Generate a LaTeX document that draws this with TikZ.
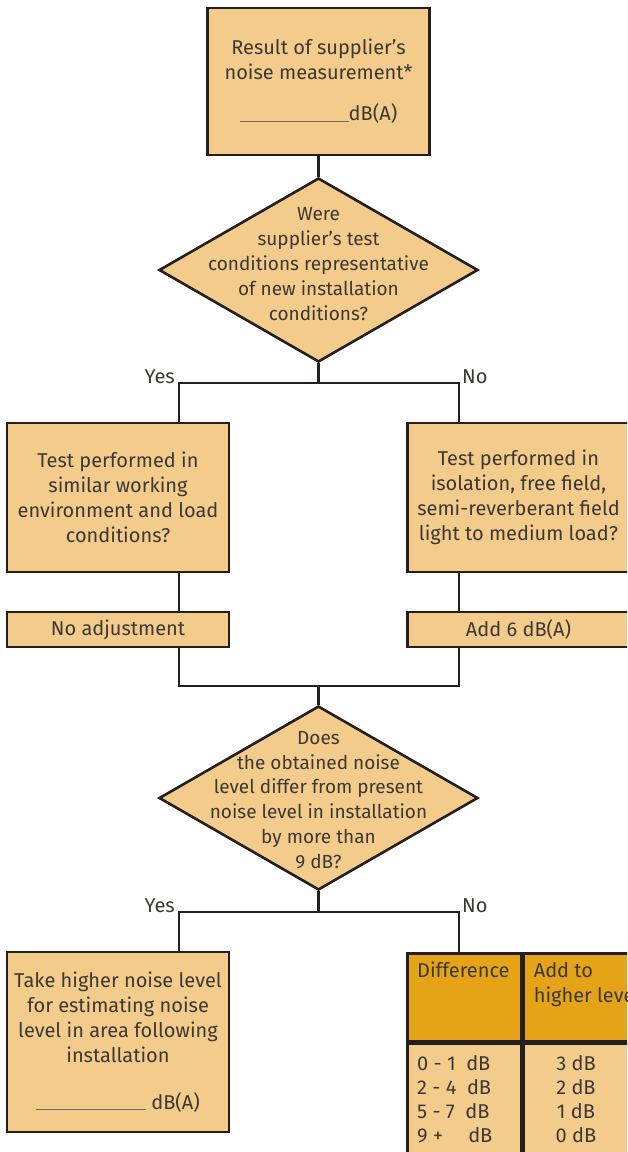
\documentclass[tikz,border=0pt]{standalone}
\usepackage{fontspec}
\setmainfont{Fira Sans}
\usetikzlibrary{shapes.geometric,positioning}
\definecolor{boxfill}{HTML}{F3CC8B}
\definecolor{headfill}{HTML}{E5A418}
\definecolor{inkgray}{HTML}{3C3834}
\definecolor{linedark}{HTML}{231F20}
\newcommand{\blankline}[1]{\textcolor{inkgray!75}{\rule[-1pt]{#1}{1.2pt}}}

\begin{document}
\begin{tikzpicture}[x=1pt,y=-1pt,
    every node/.style={font=\fontsize{20}{25}\selectfont, text=inkgray},
    box/.style={draw=linedark, line width=2.6pt, fill=boxfill, rectangle,
        minimum width=222pt, inner sep=0pt, align=center},
    decision/.style={draw=linedark, line width=2.6pt, fill=boxfill, diamond,
        minimum width=319pt, minimum height=184pt, inner sep=0pt},
    qtext/.style={align=center, inner sep=0pt, font=\fontsize{19}{24.8}\selectfont},
    cell/.style={draw=linedark, line width=2.6pt, rectangle, inner sep=0pt},
    answer/.style={inner sep=0pt},
    link/.style={draw=linedark, line width=2.6pt}]

            \useasboundingbox (0,0) rectangle (627,1152);
            \clip (0,0) rectangle (627,1152);

            \node (result) [box, minimum height=147pt] at (318.5,81.5)
                {Result of supplier's\\noise measurement*\\[16pt]\blankline{109pt}dB(A)};
            \node (q1) [decision] at (318.5,270) {};
            \node (q1text) [qtext] at (318.5,264)
                {Were\\supplier's test\\conditions representative\\of new installation\\conditions?};

            \coordinate (split1) at (318.5,383);
            \coordinate (yes1) at (179,383);
            \coordinate (no1) at (459,383);
            \node (yes1lbl) [answer, anchor=base east, xshift=-4pt] at (yes1) {Yes};
            \node (no1lbl)  [answer, anchor=base west, xshift=3pt] at (no1) {No};

            \node (envbox) [box, minimum height=149pt] at (118,497.5)
                {Test performed in\\similar working\\environment and load\\conditions?};
            \node (isobox) [box, minimum height=149pt] at (518.5,497.5)
                {Test performed in\\isolation, free field,\\semi-reverberant field\\light to medium load?};
            \node (noadj) [box, minimum height=35pt] at (118,629.5) {No adjustment};
            \node (add6)  [box, minimum height=35pt] at (518.5,629.5) {Add 6 dB(A)};

            \coordinate (merge) at (318.5,686);
            \node (q2) [decision] at (318.5,798) {};
            \node (q2text) [qtext] at (318.5,800)
                {Does\\the obtained noise\\level differ from present\\noise level in installation\\by more than\\9 dB?};

            \coordinate (split2) at (318.5,912);
            \coordinate (yes2) at (179,912);
            \coordinate (no2) at (459,912);
            \node (yes2lbl) [answer, anchor=base east, xshift=-4pt] at (yes2) {Yes};
            \node (no2lbl)  [answer, anchor=base west, xshift=3pt] at (no2) {No};

            \node (takehigher) [box, minimum height=180pt] at (118,1042)
                {Take higher noise level\\for estimating noise\\level in area following\\installation\\[22pt]\blankline{110pt}\ dB(A)};

            \node (diffhead) [cell, fill=headfill, anchor=north west, minimum width=114pt, minimum height=88pt] at (406,952) {};
            \node (addhead)  [cell, fill=headfill, anchor=north west, minimum width=112pt, minimum height=88pt] at (diffhead.north east) {};
            \node (diffbody) [cell, fill=boxfill, anchor=north west, minimum width=114pt, minimum height=130pt] at (diffhead.south west) {};
            \node (addbody)  [cell, fill=boxfill, anchor=north west, minimum width=112pt, minimum height=130pt] at (diffhead.south east) {};
            \node (difftitle) [answer, anchor=north west, align=left] at ([shift={(11,10)}]diffhead.north west) {Difference};
            \node (addtitle)  [answer, anchor=north west, align=left] at ([shift={(11,10)}]addhead.north west) {Add to\\higher level};
            \node (diffvals) [answer, anchor=north west, align=left, font=\fontsize{20}{24}\selectfont]
                at ([shift={(11,13)}]diffbody.north west) {0 - 1\ \ dB\\2 - 4\ \ dB\\5 - 7\ \ dB\\9 +\quad\ dB};
            \node (addvals) [answer, anchor=north, align=center, font=\fontsize{20}{24}\selectfont]
                at ([shift={(0,13)}]diffbody.north -| 576,0) {3 dB\\2 dB\\1 dB\\0 dB};

            \draw [link] (result) -- (q1);
            \draw [link] (q1.south) -- (split1);
            \draw [link] (yes1 |- envbox.north) -- (yes1) -- (no1) -- (no1 |- isobox.north);
            \draw [link] (envbox.south -| yes1) -- (noadj.north -| yes1);
            \draw [link] (isobox.south -| no1) -- (add6.north -| no1);
            \draw [link] (noadj.south -| yes1) |- (merge) -| (add6.south -| no1);
            \draw [link] (merge) -- (q2.north);
            \draw [link] (q2.south) -- (split2);
            \draw [link] (yes2 |- takehigher.north) -- (yes2) -- (no2) -- (no2 |- diffhead.north);

        \end{tikzpicture}
\end{document}
